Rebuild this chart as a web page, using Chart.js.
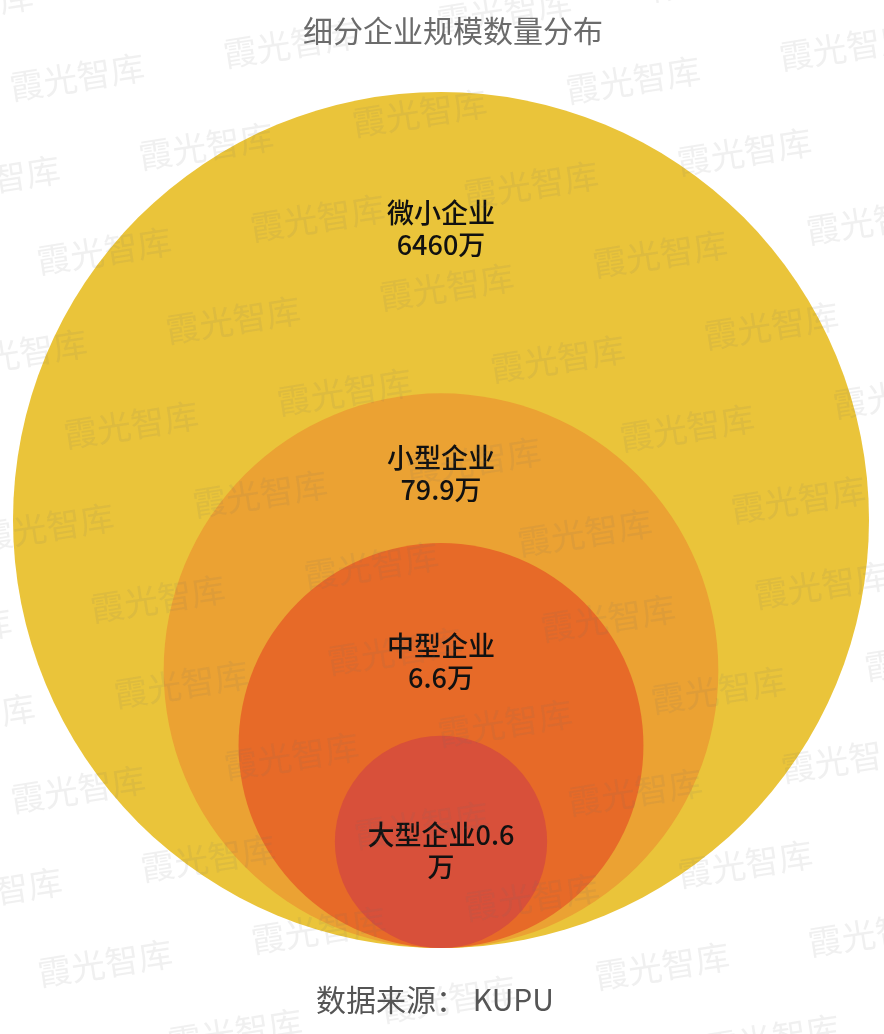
<!DOCTYPE html>
<html lang="zh">
<head>
<meta charset="utf-8">
<title>细分企业规模数量分布</title>
<script src="https://cdn.jsdelivr.net/npm/chart.js@4.4.1/dist/chart.umd.min.js"></script>
<style>
  html, body { margin: 0; padding: 0; background: #fff; }
  #wrap { position: relative; width: 884px; height: 1034px; }
</style>
</head>
<body>
<div id="wrap"><canvas id="sizeChart" width="884" height="1034"></canvas></div>
<script>
/* ---- data ---- */
var categories = ['微小企业', '小型企业', '中型企业', '大型企业'];
var counts     = [6460, 79.9, 6.6, 0.6];   // 单位：万
var unit       = '万';
var titleText  = '细分企业规模数量分布';
var sourceText = '数据来源： KUPU';

/* ---- style ---- */
var ringColors = ['#EAC43A', '#EBA233', '#E76A28', '#D8503A'];
var ringScale  = [1, 0.648, 0.473, 0.248];     // radius relative to the outer ring
var labelLift  = [0.68, 0.71, 0.415, -0.085];  // label offset above centre, in radii
var labelWrap  = [115, 115, 115, 155];         // max label line width (px)
var labelFont  = '500 27px "Noto Sans CJK SC", sans-serif';

function wrapChars(ctx, text, maxW) {
  var lines = [], cur = '';
  Array.from(text).forEach(function (ch) {
    if (cur && ctx.measureText(cur + ch).width > maxW) { lines.push(cur); cur = ch; }
    else cur += ch;
  });
  if (cur) lines.push(cur);
  return lines;
}

/* labels inside each ring */
var ringLabels = {
  id: 'ringLabels',
  afterDatasetsDraw: function (chart) {
    var ctx = chart.ctx;
    var meta = chart.getDatasetMeta(0);
    ctx.save();
    ctx.font = labelFont;
    ctx.fillStyle = '#111';
    ctx.textAlign = 'center';
    ctx.textBaseline = 'middle';
    meta.data.forEach(function (pt, i) {
      var r = pt.options.radius;
      var lines = wrapChars(ctx, categories[i] + counts[i] + unit, labelWrap[i]);
      var cy = pt.y - labelLift[i] * r;
      lines.forEach(function (line, k) {
        ctx.fillText(line, pt.x, cy + (k - (lines.length - 1) / 2) * 32);
      });
    });
    ctx.restore();
  }
};

/* title + source */
var captions = {
  id: 'captions',
  afterDraw: function (chart) {
    var ctx = chart.ctx;
    ctx.save();
    ctx.textAlign = 'center';
    ctx.textBaseline = 'middle';
    ctx.font = '30px "Noto Sans CJK SC", sans-serif';
    ctx.fillStyle = '#6b6b6b';
    ctx.fillText(titleText, 453, 31);
    ctx.fillStyle = '#555';
    ctx.fillText(sourceText, 435, 1000);
    ctx.restore();
  }
};

/* tiled watermark */
var watermark = {
  id: 'watermark',
  afterDraw: function (chart) {
    var ctx = chart.ctx;
    var ang = -8.8 * Math.PI / 180;
    var ux = Math.cos(ang), uy = Math.sin(ang);
    ctx.save();
    ctx.font = '34px "Noto Sans CJK SC", sans-serif';
    ctx.fillStyle = 'rgba(110,110,110,0.10)';
    ctx.textAlign = 'center';
    ctx.textBaseline = 'middle';
    for (var n = -2; n <= 12; n++) {
      var shift = n < 7 ? (n % 2 ? 117 : 0) : (n % 2 ? 10 : 108);
      for (var m = -3; m <= 5; m++) {
        var u = m * 216 + shift, v = n * 88;
        var x = 77 + u * ux - v * uy;
        var y = 77 + u * uy + v * ux;
        ctx.save();
        ctx.translate(x, y);
        ctx.rotate(ang);
        ctx.fillText('霞光智库', 0, 0);
        ctx.restore();
      }
    }
    ctx.restore();
  }
};

var canvas = document.getElementById('sizeChart');
new Chart(canvas.getContext('2d'), {
  type: 'scatter',
  data: {
    labels: categories,
    datasets: [{
      label: '企业数量',
      data: categories.map(function (c, i) { return { x: 0, y: ringScale[i] }; }),
      pointBackgroundColor: ringColors,
      pointBorderWidth: 0,
      pointRadius: function (c) {
        var y = c.chart.scales.y;
        return y.getPixelForValue(0) - y.getPixelForValue(ringScale[c.dataIndex]);
      },
      pointHoverRadius: function (c) {
        var y = c.chart.scales.y;
        return y.getPixelForValue(0) - y.getPixelForValue(ringScale[c.dataIndex]);
      },
      clip: false
    }]
  },
  options: {
    responsive: false,
    animation: false,
    events: [],
    layout: { padding: { left: 13, right: 15, top: 92, bottom: 86 } },
    scales: {
      x: { type: 'linear', min: -1, max: 1, display: false },
      y: { type: 'linear', min: 0, max: 2, display: false }
    },
    plugins: {
      legend: { display: false },
      tooltip: { enabled: false }
    }
  },
  plugins: [ringLabels, captions, watermark]
});
</script>
</body>
</html>
